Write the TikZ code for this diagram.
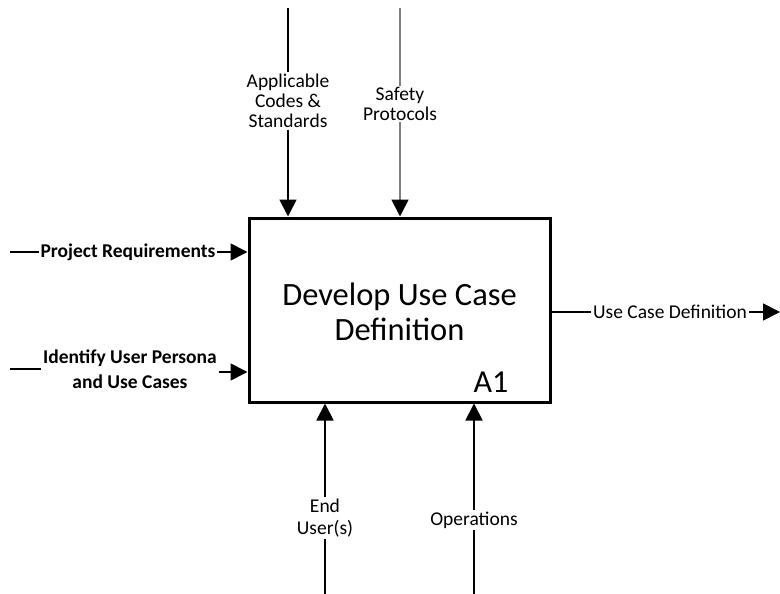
\documentclass[tikz,border=0pt]{standalone}
\usepackage{fontspec}
\setmainfont{Carlito}
\usetikzlibrary{arrows.meta}
\tikzset{
  activity/.style={draw=black, line width=3pt, fill=white, inner sep=0pt},
  flow/.style={draw=black, line width=1.8pt},
  softflow/.style={draw=black!50, line width=1.7pt},
  tip/.style={-{Triangle[length=17pt,width=17pt,color=black,fill=black]}},
  lbl/.style={font=\fontsize{19.5}{20}\selectfont, align=center, inner sep=1.5pt, fill=white},
  blbl/.style={font=\fontsize{19.5}{25}\selectfont\bfseries, align=center, inner sep=1.5pt, fill=white},
}
\begin{document}
\begin{tikzpicture}[x=1pt,y=-1pt]
\useasboundingbox (0,0) rectangle (780,594);

% activity box
\node[activity, minimum width=301pt, minimum height=184pt] (box) at (399.5,310) {};
\node[font=\fontsize{32.5}{35}\selectfont, align=center] (title) at (399.5,312)
  {Develop Use Case\\Definition};
\node[font=\fontsize{32}{32}\selectfont] (num) at (491,382) {A1};

% free ends of the connectors
\coordinate (cA) at (288,8);
\coordinate (cS) at (400,8);
\coordinate (iP) at (10,252);
\coordinate (iU) at (10,369);
\coordinate (iUa) at (0,372);
\coordinate (mE) at (325,594);
\coordinate (mO) at (474,594);
\coordinate (oU) at (780,312);

% labels
\node[lbl] (lA) at (288,101) {Applicable\\Codes \&\\Standards};
\node[lbl] (lS) at (400,104) {Safety\\Protocols};
\node[blbl] (lP) at (128,252) {Project Requirements};
\node[blbl] (lU) at (130,369) {Identify User Persona\\and Use Cases};
\node[lbl, font=\fontsize{19.5}{22}\selectfont] (lE) at (325,518) {End\\User(s)};
\node[lbl] (lO) at (474,520) {Operations};
\node[lbl] (lD) at (670,312) {Use Case Definition};

% controls
\draw[flow] (cA) -- (lA);
\draw[flow, tip] (lA) -- (box.north -| lA);
\draw[softflow] (cS) -- (lS);
\draw[softflow, tip] (lS) -- (box.north -| lS);

% inputs
\draw[flow] (iP) -- (lP);
\draw[flow, tip] (lP) -- (box.west |- lP);
\draw[flow] (iU) -- (lU.west |- iU);
\draw[flow, tip] (lU.east |- iUa) -- (box.west |- iUa);

% mechanisms
\draw[flow] (mE) -- (lE);
\draw[flow, tip] (lE) -- (box.south -| lE);
\draw[flow] (mO) -- (lO);
\draw[flow, tip] (lO) -- (box.south -| lO);

% output
\draw[flow] (box.east |- lD) -- (lD);
\draw[flow, tip] (lD) -- (oU);
\end{tikzpicture}
\end{document}
